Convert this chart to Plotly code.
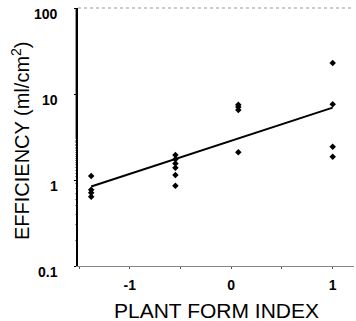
import math
import plotly.graph_objects as go

# Data
pfi_x = [-1.38, -1.38, -1.38, -1.38,
         -0.55, -0.55, -0.55, -0.55, -0.55, -0.55,
         0.07, 0.07, 0.07, 0.07,
         1.0, 1.0, 1.0, 1.0]
efficiency = [1.11, 0.77, 0.71, 0.64,
              1.95, 1.74, 1.56, 1.39, 1.14, 0.86,
              7.5, 7.07, 6.5, 2.1,
              22.9, 7.6, 2.43, 1.86]

fit_x = [-1.38, 1.0]
fit_y = [0.84, 6.95]

x_ticks = [-1, 0, 1]
x_tick_labels = ["-1", "0", "1"]
y_ticks = [0.1, 1, 10, 100]
y_tick_labels = ["0.1", "1", "10", "100"]

x_title = "PLANT FORM INDEX"
y_title = "EFFICIENCY (ml/cm<sup>2</sup>)"

fig = go.Figure()
fig.add_trace(go.Scatter(x=fit_x, y=fit_y, mode="lines",
                         line=dict(color="black", width=2), showlegend=False))
fig.add_trace(go.Scatter(x=pfi_x, y=efficiency, mode="markers",
                         marker=dict(symbol="diamond", size=5, color="black"),
                         showlegend=False))

font_family = "Liberation Sans, Arial, sans-serif"
fig.update_layout(
    width=356, height=321,
    margin=dict(l=78, r=2, t=8, b=55, autoexpand=False),
    paper_bgcolor="white", plot_bgcolor="white",
    font=dict(family=font_family, color="black"),
)
fig.update_xaxes(
    range=[-1.51, 1.21], automargin=False,
    tickvals=x_ticks, ticktext=x_tick_labels,
    ticks="outside", ticklen=2, tickcolor="#555",
    ticklabelstandoff=4,
    minor=dict(dtick=0.5, ticks="outside", ticklen=2, tickcolor="#555"),
    showline=True, linecolor="#888", linewidth=1, mirror=False,
    showgrid=False, zeroline=False,
    tickfont=dict(size=14, family=font_family, weight="bold"),
)
fig.update_yaxes(
    type="log", range=[-1, 2], automargin=False,
    tickvals=y_ticks, showticklabels=False,
    ticks="outside", ticklen=2, tickcolor="black",
    minor=dict(ticks="outside", ticklen=1, tickcolor="#999", showgrid=False),
    showline=True, linecolor="black", linewidth=2,
    showgrid=False, zeroline=False,
)
# y tick labels (slightly below their ticks, as in the reference)
for v, lab in zip(y_ticks, y_tick_labels):
    fig.add_annotation(x=0, xref="paper", y=math.log10(v), yref="y",
                       text=lab, showarrow=False, xanchor="right", yanchor="middle",
                       xshift=-18, yshift=-6,
                       font=dict(size=14, family=font_family, weight="bold"))
# axis titles
fig.add_annotation(x=0.5, xref="paper", y=0, yref="paper", text=x_title,
                   showarrow=False, xanchor="center", yanchor="middle", yshift=-44,
                   font=dict(size=21, family=font_family))
fig.add_annotation(x=0, xref="paper", y=0.5, yref="paper", text=y_title,
                   showarrow=False, textangle=-90, xanchor="center", yanchor="middle",
                   xshift=-58, yshift=-4,
                   font=dict(size=20, family=font_family))
# dotted top border
fig.add_shape(type="line", xref="paper", yref="paper", x0=0, x1=1, y0=1, y1=1,
              line=dict(color="#999", width=1, dash="dot"))

fig.write_html("out.html", config={"displayModeBar": False},
               post_script="document.body.style.margin='0';")
